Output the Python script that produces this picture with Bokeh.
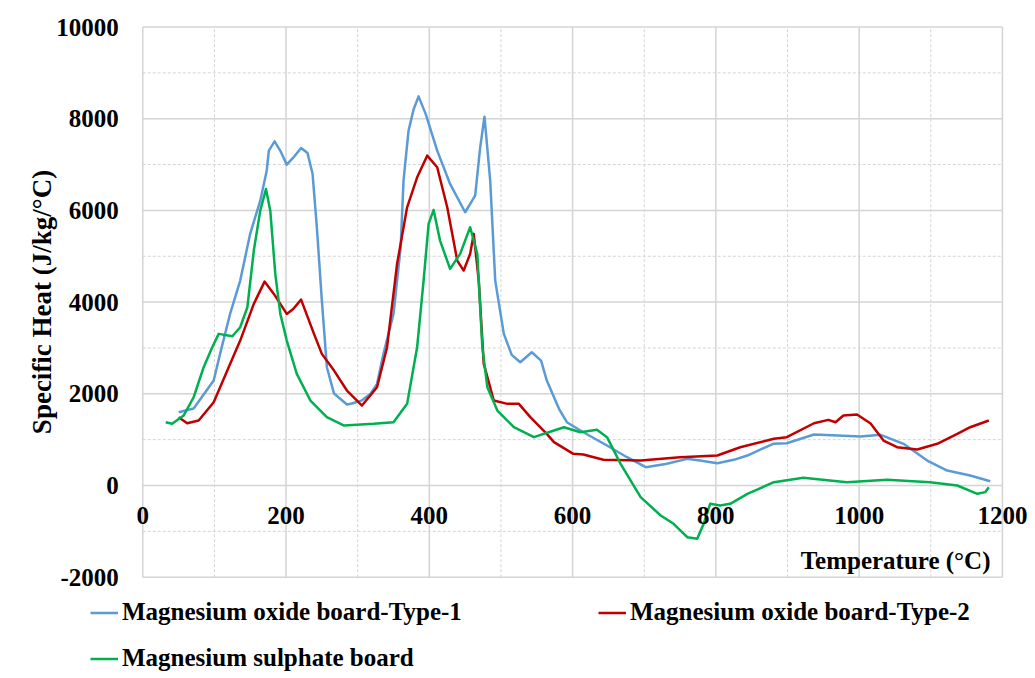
from bokeh.plotting import figure
from bokeh.layouts import column
from bokeh.models import Range1d, FixedTicker, NumeralTickFormatter, Legend, LegendItem, Label
from bokeh.embed import file_html
from bokeh.resources import INLINE

# Temperature (°C) and specific heat (J/kg/°C)
t_type1 = [50,71,99,108,122,136,150,164,173,176,184,192,201,210,221,230,237,243,250,257,
           267,285,292,305,318,327,336,350,360,364,371,378,385,395,411,429,450,464,471,477,
           485,492,504,515,527,543,556,564,581,592,615,648,676,702,730,760,780,802,825,844,
           880,899,937,970,1002,1030,1062,1095,1123,1155,1183]
cp_type1 = [1598,1679,2289,2877,3750,4469,5494,6213,6867,7303,7506,7300,6998,7150,7362,7250,6800,5630,4033,2580,
            2005,1766,1787,1850,2000,2217,2871,3743,5195,6649,7739,8200,8487,8100,7303,6577,5960,6322,7376,8044,
            6649,4469,3307,2850,2688,2906,2725,2289,1672,1380,1162,872,617,399,470,581,540,486,560,654,
            909,922,1112,1090,1068,1105,909,545,327,218,94]

t_type2 = [50,62,78,99,118,136,155,170,183,201,210,221,239,250,267,285,306,327,341,355,
           369,383,397,411,425,439,448,457,462,469,476,490,509,525,541,564,574,601,615,643,
           695,750,802,834,881,899,937,957,967,978,997,1016,1034,1053,1081,1109,1137,1155,1181]
cp_type2 = [1490,1358,1417,1816,2507,3161,3961,4447,4178,3743,3850,4055,3307,2871,2507,2071,1744,2144,3016,4834,
            6068,6722,7194,6940,6068,4906,4688,5052,5488,4469,2653,1853,1781,1781,1490,1127,945,690,676,560,
            545,617,654,835,1018,1053,1358,1432,1380,1526,1548,1352,981,835,785,909,1127,1271,1417]

t_sulph = [32,41,57,71,85,97,106,125,136,146,155,164,172,178,185,192,201,215,234,257,
           281,322,350,369,383,392,399,406,415,429,443,457,467,474,481,495,518,546,574,588,
           611,634,648,667,695,723,741,760,774,783,792,806,820,844,881,922,983,1039,1099,1137,
           1165,1176,1181]
cp_sulph = [1380,1345,1526,1925,2580,3016,3307,3256,3452,3888,5123,5995,6468,5995,4615,3743,3161,2435,1853,1490,
            1308,1345,1380,1781,3016,4469,5706,6010,5341,4724,5052,5633,5052,3016,2144,1635,1271,1054,1199,1271,
            1162,1214,1054,473,-255,-654,-835,-1127,-1162,-835,-399,-436,-399,-181,72,167,72,124,72,0,
            -181,-145,-36]

series_names = ["Magnesium oxide board-Type-1", "Magnesium oxide board-Type-2", "Magnesium sulphate board"]
series_colors = ["#5B9BD5", "#C00000", "#00B050"]
series_t = [t_type1, t_type2, t_sulph]
series_cp = [cp_type1, cp_type2, cp_sulph]
x_min, x_max = 0, 1200
y_min, y_max = -2000, 10000
x_ticks = [0, 200, 400, 600, 800, 1000, 1200]
x_minor = [100, 300, 500, 700, 900, 1100]
y_ticks = [-2000, 0, 2000, 4000, 6000, 8000, 10000]
y_minor = [-1000, 1000, 3000, 5000, 7000, 9000]

FONT = "Liberation Serif"
GRID = "#d4d4d4"

# the frame is larger than the plotted box (0..1200, -2000..10000); axes are pinned to the box
p = figure(width=1035, height=598, output_backend="svg", toolbar_location=None,
           x_range=Range1d(x_min - 198.6, x_max + 40.6), y_range=Range1d(y_min - 355.5, y_max + 360),
           min_border_left=0, min_border_right=4, min_border_top=10, min_border_bottom=5)
p.background_fill_color = "white"
p.border_fill_color = "white"
p.outline_line_color = None

p.xaxis.ticker = FixedTicker(ticks=x_ticks, minor_ticks=x_minor)
p.yaxis.ticker = FixedTicker(ticks=y_ticks, minor_ticks=y_minor)
p.yaxis.formatter = NumeralTickFormatter(format="0")
p.xaxis.fixed_location = 0
p.yaxis.fixed_location = x_min
for ax in (p.xaxis, p.yaxis):
    ax.axis_line_color = None
    ax.major_tick_line_color = None
    ax.minor_tick_line_color = None
    ax.major_tick_out = 0
    ax.major_tick_in = 0
    ax.major_label_text_font = FONT
    ax.major_label_text_font_style = "bold"
    ax.major_label_text_font_size = "25px"
    ax.major_label_text_color = "black"
p.xaxis.major_label_standoff = 17
p.yaxis.major_label_standoff = 20
p.yaxis.axis_label = "Specific Heat (J/kg/°C)"
p.yaxis.axis_label_text_font = FONT
p.yaxis.axis_label_text_font_style = "bold"
p.yaxis.axis_label_text_font_size = "27px"
p.yaxis.axis_label_text_color = "black"
p.yaxis.axis_label_standoff = -4

# grid lines limited to the plotted box
p.xgrid.visible = False
p.ygrid.visible = False
p.multi_line(xs=[[x_min, x_max] for _ in y_ticks], ys=[[v, v] for v in y_ticks],
             line_color=GRID, line_width=1.5)
p.multi_line(xs=[[x_min, x_max] for _ in y_minor], ys=[[v, v] for v in y_minor],
             line_color=GRID, line_width=1, line_dash="3 2")
p.multi_line(xs=[[v, v] for v in x_ticks], ys=[[y_min, y_max] for _ in x_ticks],
             line_color=GRID, line_width=1.5)
p.multi_line(xs=[[v, v] for v in x_minor], ys=[[y_min, y_max] for _ in x_minor],
             line_color=GRID, line_width=1, line_dash="3 2")

for t, cp, c in zip(series_t, series_cp, series_colors):
    p.line(t, cp, line_color=c, line_width=2.5, line_join="round")

p.add_layout(Label(x=990, y=33, x_units="screen", y_units="screen", text="Temperature (°C)",
                   text_align="right", text_baseline="middle", text_font=FONT,
                   text_font_style="bold", text_font_size="25px", text_color="black"))

# legend strip below the chart (its key lines reuse the series, kept out of its view)
lf = figure(width=1035, height=80, output_backend="svg", toolbar_location=None,
            x_range=Range1d(-2, -1), y_range=Range1d(-2, -1), x_axis_location=None, y_axis_location=None,
            min_border_left=0, min_border_right=4, min_border_top=0, min_border_bottom=0)
lf.outline_line_color = None
lf.xgrid.visible = False
lf.ygrid.visible = False
keys = [lf.line(t, cp, line_color=c, line_width=2.5) for t, cp, c in zip(series_t, series_cp, series_colors)]
legend_locs = [(90, 52), (598, 52), (90, 6)]
for name, r, loc in zip(series_names, keys, legend_locs):
    lf.add_layout(Legend(items=[LegendItem(label=name, renderers=[r])], location=loc,
                         border_line_color=None, background_fill_alpha=0, padding=0, margin=0,
                         glyph_width=28, glyph_height=25, label_height=25, label_standoff=4,
                         label_text_font=FONT, label_text_font_style="bold",
                         label_text_font_size="25px", label_text_color="black"))

open("out.html", "w").write(file_html(column(p, lf, spacing=0), INLINE))
